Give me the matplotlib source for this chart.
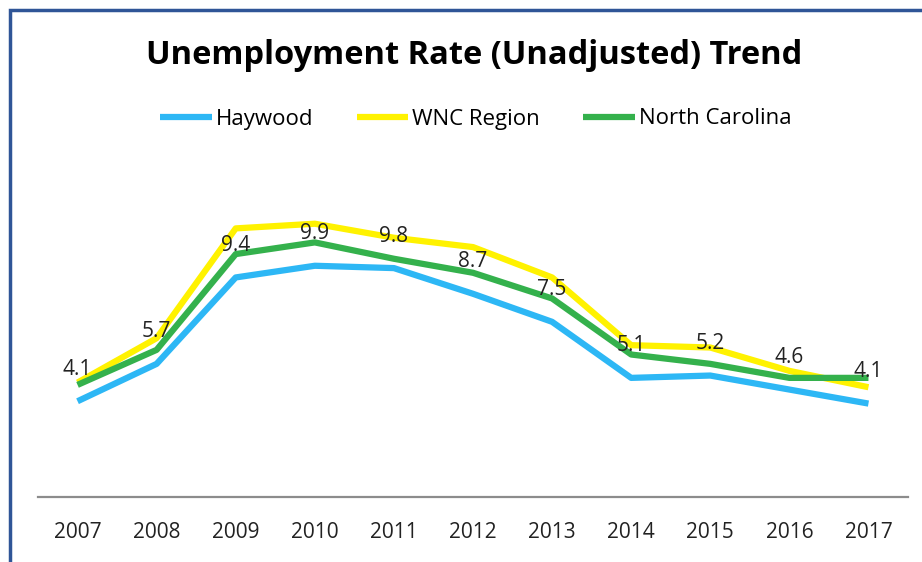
import matplotlib.pyplot as plt
from matplotlib.patches import Rectangle

years = ["2007", "2008", "2009", "2010", "2011", "2012", "2013", "2014", "2015", "2016", "2017"]
haywood = [4.1, 5.7, 9.4, 9.9, 9.8, 8.7, 7.5, 5.1, 5.2, 4.6, 4.0]
wnc = [4.9, 6.8, 11.5, 11.7, 11.1, 10.7, 9.4, 6.5, 6.4, 5.4, 4.7]
nc = [4.8, 6.3, 10.4, 10.9, 10.2, 9.6, 8.5, 6.1, 5.7, 5.1, 5.1]
labels = ["4.1", "5.7", "9.4", "9.9", "9.8", "8.7", "7.5", "5.1", "5.2", "4.6", "4.1"]

BLUE = "#2DB7F5"
YELLOW = "#FFF200"
GREEN = "#34B14C"

plt.rcParams["font.family"] = ["Open Sans", "DejaVu Sans"]

W, H = 922, 562
fig = plt.figure(figsize=(W / 100, H / 100), dpi=100, facecolor="white")
ax = fig.add_axes([38 / W, 1 - 497 / H, (908 - 38) / W, (497 - 170) / H])

x = list(range(len(years)))
ax.plot(x, haywood, color=BLUE, lw=4.5, label="Haywood", solid_capstyle="butt")
ax.plot(x, wnc, color=YELLOW, lw=4.5, label="WNC Region", solid_capstyle="butt")
ax.plot(x, nc, color=GREEN, lw=4.5, label="North Carolina", solid_capstyle="butt")

for xi, yi, lab in zip(x, haywood, labels):
    ax.annotate(lab, (xi, yi), xytext=(0, 23), textcoords="offset points",
                ha="center", va="center", fontsize=15, color="#222222")

ax.set_xlim(-0.5, len(years) - 0.5)
ax.set_ylim(0, 14)
ax.set_xticks(x)
ax.set_xticklabels(years)
ax.set_yticks([])
ax.tick_params(axis="x", length=0, pad=18, labelsize=15, colors="#222222")
for s in ("top", "right", "left"):
    ax.spines[s].set_visible(False)
ax.spines["bottom"].set_color("#8C8C8C")
ax.spines["bottom"].set_linewidth(1.6)

fig.text(474 / W, 1 - 55 / H, "Unemployment Rate (Unadjusted) Trend",
         ha="center", va="center", fontsize=23.5, fontweight="bold", color="black")

fig.legend(loc="center", bbox_to_anchor=(476 / W, 1 - 119 / H), ncol=3, frameon=False,
           fontsize=16, handlelength=2.3, handletextpad=0.2, columnspacing=1.95)

fig.patches.append(Rectangle((9.5 / W, -0.1), 1.2, 1 - 9.5 / H + 0.1, transform=fig.transFigure,
                             fill=False, edgecolor="#2F5597", lw=2.5))

fig.savefig("out.png", dpi=100, facecolor="white")
